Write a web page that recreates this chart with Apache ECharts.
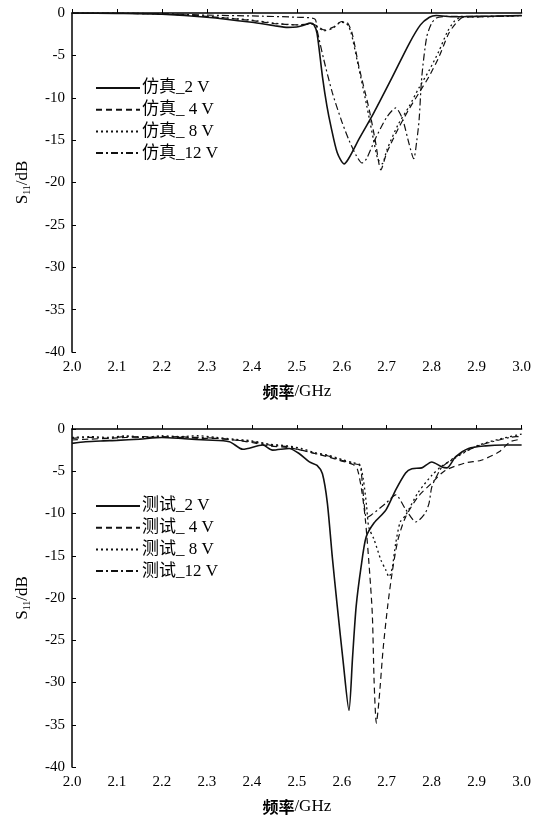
<!DOCTYPE html>
<html>
<head>
<meta charset="utf-8">
<script src="https://cdn.jsdelivr.net/npm/echarts@6/dist/echarts.min.js"></script>
<style>
html,body{margin:0;padding:0;background:#fff;}
#chart{width:534px;height:822px;}
</style>
</head>
<body>
<div id="chart"></div>
<script>
// 仿真 (上图)  [频率 GHz, S11 dB]
var sim2V = [[2.0,0],[2.1,-0.05],[2.2,-0.15],[2.3,-0.5],[2.4,-1.1],[2.45,-1.5],[2.48,-1.7],[2.5,-1.65],[2.515,-1.45],[2.53,-1.2],[2.538,-1.4],[2.545,-2.4],[2.557,-7.5],[2.567,-11],[2.576,-13.4],[2.59,-16.5],[2.605,-17.8],[2.615,-17.2],[2.64,-14.7],[2.67,-11.9],[2.712,-7.6],[2.75,-3.6],[2.775,-1.4],[2.795,-0.5],[2.81,-0.3],[2.85,-0.45],[2.9,-0.4],[2.95,-0.35],[3.0,-0.3]];
var sim4V = [[2.0,0],[2.1,-0.05],[2.2,-0.1],[2.3,-0.4],[2.4,-0.9],[2.45,-1.25],[2.5,-1.4],[2.535,-1.3],[2.55,-1.7],[2.56,-2.0],[2.58,-1.7],[2.6,-1.0],[2.612,-1.1],[2.623,-2.4],[2.638,-6.3],[2.661,-11.4],[2.675,-15.2],[2.687,-18.5],[2.7,-16.5],[2.727,-13.5],[2.749,-11.4],[2.772,-9.4],[2.794,-7.5],[2.816,-5.2],[2.838,-2.4],[2.854,-1.2],[2.87,-0.5],[2.9,-0.45],[2.95,-0.4],[3.0,-0.3]];
var sim8V = [[2.0,0],[2.2,-0.1],[2.3,-0.4],[2.4,-0.85],[2.45,-1.2],[2.5,-1.4],[2.535,-1.3],[2.55,-1.8],[2.56,-2.1],[2.58,-1.8],[2.598,-1.1],[2.61,-1.2],[2.62,-2.2],[2.635,-5.8],[2.655,-10.8],[2.67,-14.8],[2.68,-17.2],[2.69,-17.8],[2.7,-16.2],[2.725,-13.2],[2.75,-11.0],[2.772,-8.8],[2.794,-6.8],[2.816,-4.5],[2.835,-2.2],[2.85,-1.0],[2.865,-0.5],[2.9,-0.45],[2.95,-0.4],[3.0,-0.3]];
var sim12V = [[2.0,0],[2.1,0],[2.2,-0.1],[2.3,-0.25],[2.4,-0.35],[2.5,-0.5],[2.54,-0.7],[2.545,-2],[2.56,-5.5],[2.579,-9.4],[2.6,-12.8],[2.616,-15],[2.632,-16.8],[2.645,-17.7],[2.655,-17.2],[2.675,-14.8],[2.7,-12.3],[2.72,-11.2],[2.735,-12.5],[2.75,-15.5],[2.76,-17.2],[2.767,-15],[2.772,-12.6],[2.778,-7.5],[2.789,-2.8],[2.8,-1.2],[2.81,-0.6],[2.83,-0.4],[2.9,-0.4],[3.0,-0.3]];

// 测试 (下图)
var mea2V = [[2.0,-1.7],[2.03,-1.5],[2.07,-1.4],[2.1,-1.35],[2.15,-1.2],[2.2,-1.0],[2.25,-1.15],[2.3,-1.3],[2.35,-1.5],[2.38,-2.4],[2.424,-1.9],[2.446,-2.5],[2.483,-2.3],[2.505,-2.9],[2.528,-3.9],[2.545,-4.3],[2.557,-5.3],[2.568,-8.8],[2.579,-15.2],[2.59,-21],[2.603,-27.5],[2.616,-33.3],[2.624,-27],[2.632,-21],[2.643,-16.3],[2.654,-12.8],[2.672,-11.1],[2.698,-9.6],[2.72,-7.2],[2.742,-5.2],[2.756,-4.7],[2.778,-4.6],[2.80,-3.9],[2.823,-4.5],[2.834,-4.6],[2.853,-3.3],[2.882,-2.3],[2.92,-2.0],[2.96,-1.9],[3.0,-1.9]];
var mea4V = [[2.0,-1.3],[2.04,-1.2],[2.08,-1.1],[2.12,-1.0],[2.16,-0.9],[2.2,-1.0],[2.24,-0.9],[2.28,-1.1],[2.32,-1.1],[2.36,-1.3],[2.4,-1.6],[2.44,-2.0],[2.48,-2.2],[2.51,-2.5],[2.54,-2.9],[2.57,-3.3],[2.6,-3.8],[2.625,-4.2],[2.635,-4.8],[2.645,-7.5],[2.653,-11],[2.662,-17],[2.668,-22],[2.672,-30],[2.677,-34.8],[2.683,-32],[2.692,-26],[2.702,-21],[2.712,-17],[2.725,-13.1],[2.742,-10.4],[2.77,-8.0],[2.8,-6.4],[2.83,-4.9],[2.876,-4.0],[2.91,-3.7],[2.95,-2.7],[2.975,-1.5],[3.0,-1.2]];
var mea8V = [[2.0,-1.0],[2.04,-0.9],[2.08,-1.0],[2.12,-0.8],[2.16,-1.0],[2.2,-0.8],[2.24,-0.9],[2.28,-0.8],[2.32,-1.0],[2.36,-1.2],[2.4,-1.4],[2.44,-1.8],[2.48,-2.0],[2.51,-2.3],[2.54,-2.8],[2.57,-3.1],[2.6,-3.6],[2.625,-4.0],[2.64,-4.2],[2.648,-6],[2.655,-9],[2.66,-11.6],[2.672,-13.1],[2.687,-15.5],[2.698,-16.7],[2.705,-17.5],[2.712,-16.5],[2.72,-13.5],[2.73,-11],[2.742,-10.2],[2.77,-7.5],[2.8,-5.5],[2.82,-4.5],[2.85,-3.5],[2.9,-2.0],[2.95,-1.2],[3.0,-0.6]];
var mea12V = [[2.0,-1.1],[2.04,-1.0],[2.08,-1.1],[2.12,-0.9],[2.16,-1.0],[2.2,-0.9],[2.24,-1.0],[2.28,-1.0],[2.32,-1.1],[2.36,-1.3],[2.4,-1.5],[2.44,-1.9],[2.48,-2.1],[2.51,-2.5],[2.54,-2.9],[2.57,-3.2],[2.6,-3.7],[2.625,-4.1],[2.64,-4.3],[2.645,-6],[2.65,-9],[2.655,-10.5],[2.665,-10.2],[2.698,-8.8],[2.72,-7.8],[2.742,-9.5],[2.765,-11.0],[2.785,-10],[2.794,-8.8],[2.8,-6.9],[2.81,-5.7],[2.823,-4.5],[2.853,-3.3],[2.898,-2.1],[2.95,-1.3],[2.987,-0.9],[3.0,-0.9]];

var simNames = ['仿真_2 V', '仿真_ 4 V', '仿真_ 8 V', '仿真_12 V'];
var meaNames = ['测试_2 V', '测试_ 4 V', '测试_ 8 V', '测试_12 V'];

var serifFont = '"Liberation Serif", "Times New Roman", "Noto Sans CJK SC", serif';
var styles = [
    {type: 'solid', width: 1.6},
    {type: [6, 4], width: 1.2},
    {type: [2, 3], width: 1.3},
    {type: [7, 3, 2, 3], width: 1.2}
];

function makeSeries(name, data, k, idx){
    return {
        name: name,
        type: 'line',
        xAxisIndex: idx,
        yAxisIndex: idx,
        data: data,
        symbol: 'none',
        smooth: 0.25,
        lineStyle: {color: '#111', width: styles[k].width, type: styles[k].type},
        itemStyle: {color: '#111'}
    };
}

function makeX(idx){
    return {
        type: 'value', gridIndex: idx, min: 2.0, max: 3.0, interval: 0.1,
        name: '{b|频率}{n|/GHz}', nameLocation: 'middle', nameGap: 31,
        nameTextStyle: {rich: {
            b: {fontFamily: '"Noto Sans CJK SC", sans-serif', fontWeight: 'bold', fontSize: 16, color: '#000'},
            n: {fontFamily: serifFont, fontSize: 17, color: '#000'}
        }},
        axisLine: {lineStyle: {color: '#000', width: 1.5}},
        axisTick: {inside: true, length: 4, lineStyle: {color: '#000'}},
        axisLabel: {color: '#000', fontFamily: serifFont, fontSize: 15, margin: 8,
            formatter: function(v){ return v.toFixed(1); }},
        splitLine: {show: false}
    };
}

function makeY(idx){
    return {
        type: 'value', gridIndex: idx, min: -40, max: 0, interval: 5,
        name: '{s|S}{sub|11}{s|/dB}', nameLocation: 'middle', nameGap: 40, nameRotate: 90,
        nameTextStyle: {rich: {
            s: {fontFamily: serifFont, fontSize: 17, color: '#000'},
            sub: {fontFamily: serifFont, fontSize: 10, color: '#000', verticalAlign: 'bottom', padding: [8, 0, 0, 0]}
        }},
        axisLine: {show: true, lineStyle: {color: '#000', width: 1.5}},
        axisTick: {show: true, inside: true, length: 4, lineStyle: {color: '#000'}},
        axisLabel: {color: '#000', fontFamily: serifFont, fontSize: 15, margin: 7},
        splitLine: {show: false}
    };
}

function makeLegend(names, top){
    return {
        data: names, orient: 'vertical', left: 90, top: top,
        itemWidth: 44, itemHeight: 14, itemGap: 3.7,
        itemStyle: {color: 'rgba(0,0,0,0)', borderColor: 'rgba(0,0,0,0)', borderWidth: 0, opacity: 0},
        textStyle: {fontFamily: '"Liberation Serif", "Noto Sans CJK SC", serif', fontSize: 17, color: '#000', lineHeight: 18, padding: [0, 0, 0, -3]}
    };
}

var simData = [sim2V, sim4V, sim8V, sim12V];
var meaData = [mea2V, mea4V, mea8V, mea12V];
var series = [];
for (var i = 0; i < 4; i++) {
    series.push(makeSeries(simNames[i], simData[i], i, 0));
}
for (var j = 0; j < 4; j++) {
    series.push(makeSeries(meaNames[j], meaData[j], j, 1));
}

var myChart = echarts.init(document.getElementById('chart'));
var option = {
    animation: false,
    backgroundColor: '#fff',
    grid: [
        {left: 72, top: 13, width: 451, height: 339},
        {left: 72, top: 429, width: 451, height: 338}
    ],
    legend: [makeLegend(simNames, 74), makeLegend(meaNames, 492)],
    xAxis: [makeX(0), makeX(1)],
    yAxis: [makeY(0), makeY(1)],
    series: series
};
myChart.setOption(option);
</script>
</body>
</html>
